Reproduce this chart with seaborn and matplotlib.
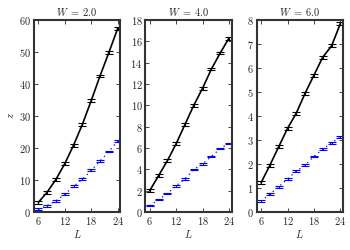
import numpy as np
import pandas as pd
import seaborn as sns
import matplotlib
matplotlib.use("Agg")
import matplotlib.pyplot as plt

# system sizes
L = [6, 8, 10, 12, 14, 16, 18, 20, 22, 24]
disorder = [2.0, 4.0, 6.0]

# black series (upper) per W
z_top_w2 = [3.0, 6.2, 10.2, 15.1, 20.9, 27.4, 34.8, 42.5, 49.8, 57.3]
z_top_w4 = [2.0, 3.4, 4.8, 6.4, 8.2, 10.0, 11.6, 13.4, 14.9, 16.3]
z_top_w6 = [1.22, 1.95, 2.72, 3.48, 4.12, 4.95, 5.7, 6.45, 6.92, 7.85]
err_top = [0.45, 0.13, 0.06]

# blue series (lower) per W
z_low_w2 = [0.8, 2.0, 3.5, 5.5, 8.0, 10.3, 13.0, 15.9, 18.9, 22.2]
z_low_w4 = [0.6, 1.15, 1.75, 2.45, 3.1, 4.0, 4.5, 5.2, 5.95, 6.45]
z_low_w6 = [0.45, 0.75, 1.05, 1.38, 1.7, 1.95, 2.32, 2.62, 2.88, 3.12]
err_low = [0.3, 0.06, 0.03]

ylims = [60, 18, 8]
yticks = [np.arange(0, 61, 10), np.arange(0, 19, 2), np.arange(0, 9, 1)]

sns.set_style("ticks")
plt.rcParams["font.family"] = ["cmr10", "DejaVu Serif"]
plt.rcParams["mathtext.fontset"] = "cm"
plt.rcParams["axes.formatter.use_mathtext"] = True
plt.rcParams["font.size"] = 7.5

fig, axes = plt.subplots(1, 3, figsize=(3.5, 2.5), dpi=100)
fig.subplots_adjust(left=0.097, right=0.98, bottom=0.152, top=0.92, wspace=0.29)

tops = [z_top_w2, z_top_w4, z_top_w6]
lows = [z_low_w2, z_low_w4, z_low_w6]

for i, ax in enumerate(axes):
    df = pd.DataFrame({"L": L, "top": tops[i], "low": lows[i]})
    sns.lineplot(data=df, x="L", y="top", ax=ax, color="black", lw=1.2)
    sns.lineplot(data=df, x="L", y="low", ax=ax, color="blue", lw=0.9,
                 linestyle=(0, (1, 3)))
    ax.errorbar(df["L"], df["top"], yerr=err_top[i], fmt="none", ecolor="black",
                elinewidth=0.8, capsize=3.2, capthick=0.8)
    ax.errorbar(df["L"], df["low"], yerr=err_low[i], fmt="none", ecolor="blue",
                elinewidth=0.8, capsize=3, capthick=0.8)
    ax.set_xlim(5, 24.6)
    ax.set_ylim(0, ylims[i])
    ax.set_xticks([6, 12, 18, 24])
    ax.set_yticks(yticks[i])
    ax.set_title(rf"$W\;=\;{disorder[i]:.1f}$", fontsize=7.5, pad=3)
    ax.set_xlabel("$L$", labelpad=1)
    ax.set_ylabel("")
    ax.tick_params(direction="in", top=True, right=True, length=3, width=0.6, pad=2)
    for s in ax.spines.values():
        s.set_linewidth(1.5)
        s.set_color("#333333")

axes[0].set_ylabel("$z$", labelpad=2)

fig.savefig("out.png", dpi=100)
